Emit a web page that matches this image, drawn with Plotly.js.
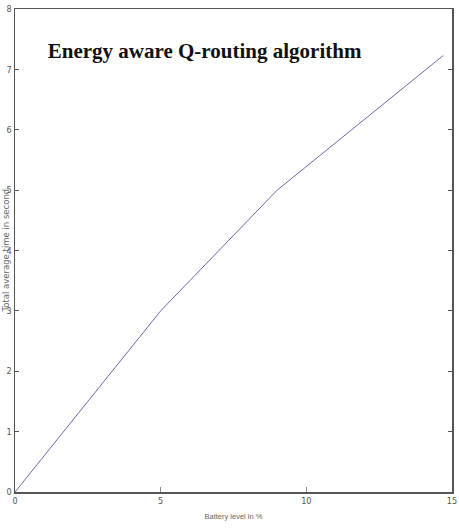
<!DOCTYPE html>
<html>
<head>
<meta charset="utf-8">
<script src="https://cdn.plot.ly/plotly-3.0.1.min.js"></script>
<style>html,body{margin:0;padding:0;background:#fff;}#chart{width:459px;height:531px;}</style>
</head>
<body>
<div id="chart"></div>
<script>
var batteryLevel = [0, 5, 9, 14.7];
var avgTime = [0, 3, 5, 7.23];
var xTicks = [0, 5, 10, 15];
var yTicks = [0, 1, 2, 3, 4, 5, 6, 7, 8];

var tickFont = {family: 'Liberation Sans Narrow, DejaVu Sans Condensed, sans-serif', size: 9, color: '#555'};

var trace = {
  x: batteryLevel, y: avgTime, mode: 'lines', type: 'scatter',
  line: {color: '#6a6aac', width: 1}, hoverinfo: 'none'
};

var layout = {
  width: 459, height: 531,
  margin: {l: 15, r: 7, t: 9, b: 39},
  paper_bgcolor: '#fff', plot_bgcolor: '#fff',
  showlegend: false,
  title: {
    text: '<b>Energy aware Q-routing algorithm</b>',
    font: {family: 'Liberation Serif, DejaVu Serif, serif', size: 21, color: '#111'},
    xref: 'paper', x: 0.075, xanchor: 'left',
    yref: 'container', y: 0.905, yanchor: 'middle'
  },
  xaxis: {
    range: [0, 15], tickvals: xTicks, ticktext: xTicks.map(String),
    ticks: 'inside', ticklen: 5, tickcolor: '#888', tickwidth: 1,
    showline: true, linecolor: '#555', linewidth: 1.5, mirror: true,
    showgrid: false, zeroline: false, tickfont: tickFont, automargin: false,
    title: {text: 'Battery level in %', font: {family: 'Liberation Sans Narrow, sans-serif', size: 7.5, color: '#666'}, standoff: 8}
  },
  yaxis: {
    range: [0, 8], tickvals: yTicks, ticktext: yTicks.map(String),
    ticks: 'inside', ticklen: 4, tickcolor: '#555', tickwidth: 1,
    showline: true, linecolor: '#555', linewidth: 1.5, mirror: 'ticks',
    showgrid: false, zeroline: false, tickfont: tickFont, automargin: false
  },
  annotations: [{
    text: 'Total average time in second', textangle: -90,
    font: {family: 'DejaVu Sans, sans-serif', size: 8.5, color: '#666'},
    xref: 'paper', x: 0, xanchor: 'center', xshift: -10,
    yref: 'paper', y: 0.5, yanchor: 'middle', showarrow: false
  }]
};

Plotly.newPlot('chart', [trace], layout, {displayModeBar: false, staticPlot: true});
</script>
</body>
</html>
